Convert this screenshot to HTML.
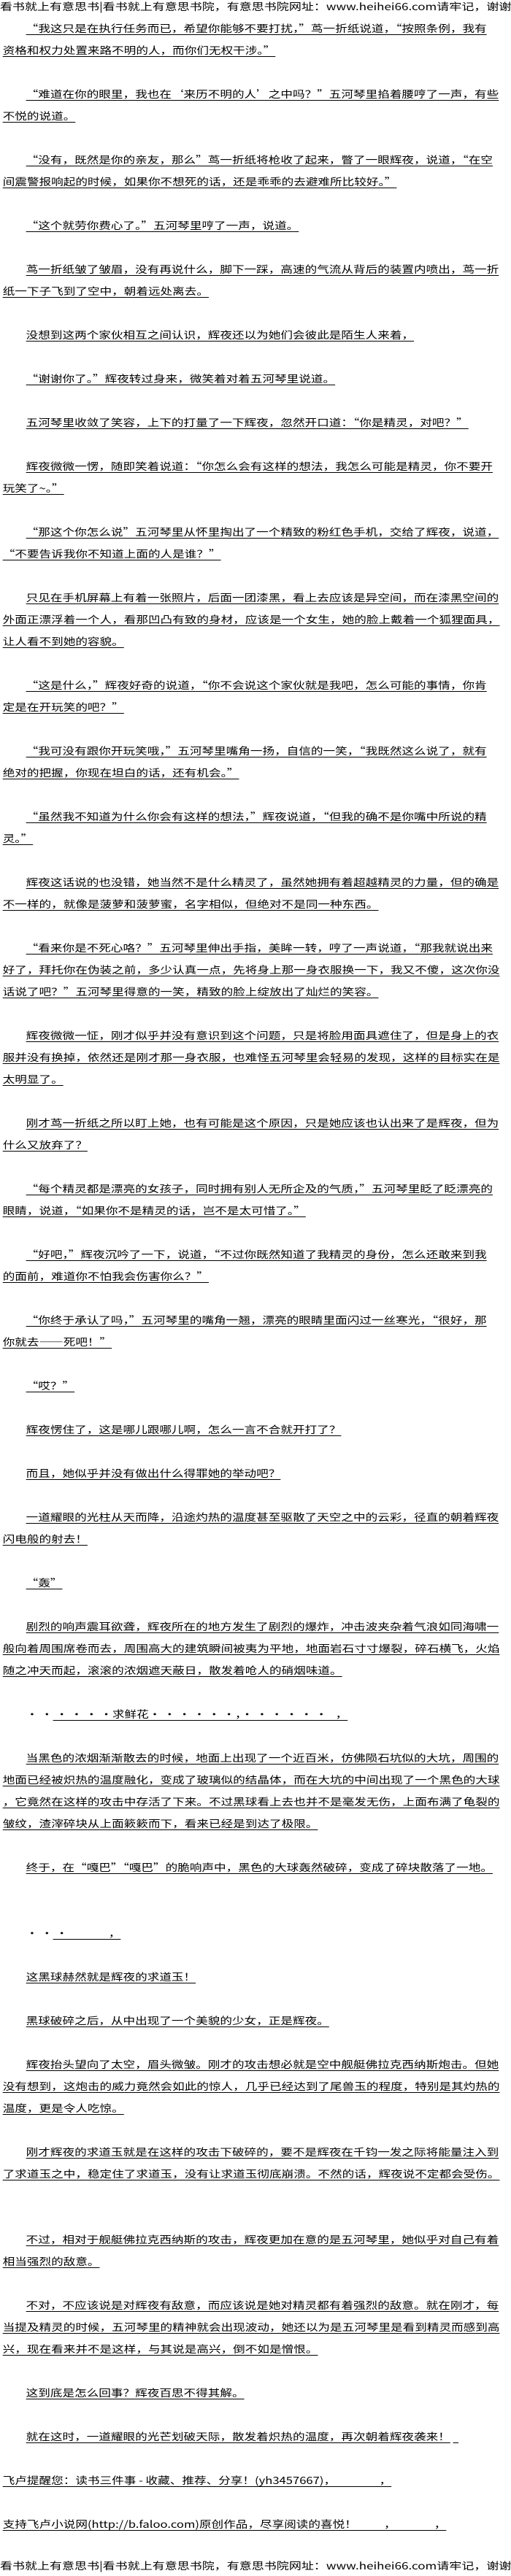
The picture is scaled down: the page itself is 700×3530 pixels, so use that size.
<!DOCTYPE html>
<html lang="zh-CN">
<head>
<meta charset="utf-8">
<style>
html,body{margin:0;padding:0;background:#fff;}
body{width:700px;height:3530px;position:relative;overflow:hidden;
font-family:"WenQuanYi Zen Hei","Noto Sans CJK SC",sans-serif;color:#000;}
.l{position:absolute;left:0;height:30px;line-height:30px;font-size:13.5px;white-space:nowrap;
transform:scaleX(1.23);transform-origin:0 0;padding-left:3px;}
.l span{text-decoration:underline;text-underline-offset:3px;text-decoration-thickness:1px;}
.i{padding-left:29px;}
.h{padding-left:0;transform:scaleX(1.26);}
</style>
</head>
<body>
<div class="l h" style="top:-7px">看书就上有意思书|看书就上有意思书院，有意思书院网址：www.heihei66.com请牢记，谢谢</div>

<div class="l i" style="top:23px"><span>“我这只是在执行任务而已，希望你能够不要打扰，”茑一折纸说道，“按照条例，我有</span></div>
<div class="l" style="top:53px"><span>资格和权力处置来路不明的人，而你们无权干涉。”</span></div>

<div class="l i" style="top:113px"><span>“难道在你的眼里，我也在‘来历不明的人’之中吗？”五河琴里掐着腰哼了一声，有些</span></div>
<div class="l" style="top:143px"><span>不悦的说道。</span></div>

<div class="l i" style="top:203px"><span>“没有，既然是你的亲友，那么”茑一折纸将枪收了起来，瞥了一眼辉夜，说道，“在空</span></div>
<div class="l" style="top:233px"><span>间震警报响起的时候，如果你不想死的话，还是乖乖的去避难所比较好。”</span></div>

<div class="l i" style="top:293px"><span>“这个就劳你费心了。”五河琴里哼了一声，说道。</span></div>

<div class="l i" style="top:353px"><span>茑一折纸皱了皱眉，没有再说什么，脚下一踩，高速的气流从背后的装置内喷出，茑一折</span></div>
<div class="l" style="top:383px"><span>纸一下子飞到了空中，朝着远处离去。</span></div>

<div class="l i" style="top:443px"><span>没想到这两个家伙相互之间认识，辉夜还以为她们会彼此是陌生人来着，</span></div>

<div class="l i" style="top:503px"><span>“谢谢你了。”辉夜转过身来，微笑着对着五河琴里说道。</span></div>

<div class="l i" style="top:563px"><span>五河琴里收敛了笑容，上下的打量了一下辉夜，忽然开口道：“你是精灵，对吧？”</span></div>

<div class="l i" style="top:623px"><span>辉夜微微一愣，随即笑着说道：“你怎么会有这样的想法，我怎么可能是精灵，你不要开</span></div>
<div class="l" style="top:653px"><span>玩笑了~。”</span></div>

<div class="l i" style="top:713px"><span>“那这个你怎么说”五河琴里从怀里掏出了一个精致的粉红色手机，交给了辉夜，说道，</span></div>
<div class="l" style="top:743px"><span>“不要告诉我你不知道上面的人是谁？”</span></div>

<div class="l i" style="top:803px"><span>只见在手机屏幕上有着一张照片，后面一团漆黑，看上去应该是异空间，而在漆黑空间的</span></div>
<div class="l" style="top:833px"><span>外面正漂浮着一个人，看那凹凸有致的身材，应该是一个女生，她的脸上戴着一个狐狸面具，</span></div>
<div class="l" style="top:863px"><span>让人看不到她的容貌。</span></div>

<div class="l i" style="top:923px"><span>“这是什么，”辉夜好奇的说道，“你不会说这个家伙就是我吧，怎么可能的事情，你肯</span></div>
<div class="l" style="top:953px"><span>定是在开玩笑的吧？”</span></div>

<div class="l i" style="top:1013px"><span>“我可没有跟你开玩笑哦，”五河琴里嘴角一扬，自信的一笑，“我既然这么说了，就有</span></div>
<div class="l" style="top:1043px"><span>绝对的把握，你现在坦白的话，还有机会。”</span></div>

<div class="l i" style="top:1103px"><span>“虽然我不知道为什么你会有这样的想法，”辉夜说道，“但我的确不是你嘴中所说的精</span></div>
<div class="l" style="top:1133px"><span>灵。”</span></div>

<div class="l i" style="top:1193px"><span>辉夜这话说的也没错，她当然不是什么精灵了，虽然她拥有着超越精灵的力量，但的确是</span></div>
<div class="l" style="top:1223px"><span>不一样的，就像是菠萝和菠萝蜜，名字相似，但绝对不是同一种东西。</span></div>

<div class="l i" style="top:1283px"><span>“看来你是不死心咯？”五河琴里伸出手指，美眸一转，哼了一声说道，“那我就说出来</span></div>
<div class="l" style="top:1313px"><span>好了，拜托你在伪装之前，多少认真一点，先将身上那一身衣服换一下，我又不傻，这次你没</span></div>
<div class="l" style="top:1343px"><span>话说了吧？”五河琴里得意的一笑，精致的脸上绽放出了灿烂的笑容。</span></div>

<div class="l i" style="top:1403px"><span>辉夜微微一怔，刚才似乎并没有意识到这个问题，只是将脸用面具遮住了，但是身上的衣</span></div>
<div class="l" style="top:1433px"><span>服并没有换掉，依然还是刚才那一身衣服，也难怪五河琴里会轻易的发现，这样的目标实在是</span></div>
<div class="l" style="top:1463px"><span>太明显了。</span></div>

<div class="l i" style="top:1523px"><span>刚才茑一折纸之所以盯上她，也有可能是这个原因，只是她应该也认出来了是辉夜，但为</span></div>
<div class="l" style="top:1553px"><span>什么又放弃了？</span></div>

<div class="l i" style="top:1613px"><span>“每个精灵都是漂亮的女孩子，同时拥有别人无所企及的气质，”五河琴里眨了眨漂亮的</span></div>
<div class="l" style="top:1643px"><span>眼睛，说道，“如果你不是精灵的话，岂不是太可惜了。”</span></div>

<div class="l i" style="top:1703px"><span>“好吧，”辉夜沉吟了一下，说道，“不过你既然知道了我精灵的身份，怎么还敢来到我</span></div>
<div class="l" style="top:1733px"><span>的面前，难道你不怕我会伤害你么？”</span></div>

<div class="l i" style="top:1793px"><span>“你终于承认了吗，”五河琴里的嘴角一翘，漂亮的眼睛里面闪过一丝寒光，“很好，那</span></div>
<div class="l" style="top:1823px"><span>你就去——死吧！”</span></div>

<div class="l i" style="top:1883px"><span>“哎？”</span></div>

<div class="l i" style="top:1943px"><span>辉夜愣住了，这是哪儿跟哪儿啊，怎么一言不合就开打了？</span></div>

<div class="l i" style="top:2003px"><span>而且，她似乎并没有做出什么得罪她的举动吧？</span></div>

<div class="l i" style="top:2063px"><span>一道耀眼的光柱从天而降，沿途灼热的温度甚至驱散了天空之中的云彩，径直的朝着辉夜</span></div>
<div class="l" style="top:2093px"><span>闪电般的射去！</span></div>

<div class="l i" style="top:2153px"><span>“轰”</span></div>

<div class="l i" style="top:2213px"><span>剧烈的响声震耳欲聋，辉夜所在的地方发生了剧烈的爆炸，冲击波夹杂着气浪如同海啸一</span></div>
<div class="l" style="top:2243px"><span>般向着周围席卷而去，周围高大的建筑瞬间被夷为平地，地面岩石寸寸爆裂，碎石横飞，火焰</span></div>
<div class="l" style="top:2273px"><span>随之冲天而起，滚滚的浓烟遮天蔽日，散发着呛人的硝烟味道。</span></div>

<div class="l i" style="top:2333px">· ·<span>&nbsp;·&nbsp;·&nbsp;·&nbsp;·求鲜花·&nbsp;·&nbsp;·&nbsp;·&nbsp;·&nbsp;·，·&nbsp;·&nbsp;·&nbsp;·&nbsp;·&nbsp;·&nbsp;&nbsp;&nbsp;，</span></div>

<div class="l i" style="top:2393px"><span>当黑色的浓烟渐渐散去的时候，地面上出现了一个近百米，仿佛陨石坑似的大坑，周围的</span></div>
<div class="l" style="top:2423px"><span>地面已经被炽热的温度融化，变成了玻璃似的结晶体，而在大坑的中间出现了一个黑色的大球</span></div>
<div class="l" style="top:2453px"><span>，它竟然在这样的攻击中存活了下来。不过黑球看上去也并不是毫发无伤，上面布满了龟裂的</span></div>
<div class="l" style="top:2483px"><span>皱纹，渣滓碎块从上面簌簌而下，看来已经是到达了极限。</span></div>

<div class="l i" style="top:2543px"><span>终于，在“嘎巴”“嘎巴”的脆响声中，黑色的大球轰然破碎，变成了碎块散落了一地。</span></div>

<div class="l i" style="top:2633px">· ·<span>&nbsp;·&nbsp;&nbsp;&nbsp;&nbsp;&nbsp;&nbsp;&nbsp;&nbsp;&nbsp;&nbsp;&nbsp;&nbsp;&nbsp;&nbsp;&nbsp;，</span></div>

<div class="l i" style="top:2693px"><span>这黑球赫然就是辉夜的求道玉！</span></div>

<div class="l i" style="top:2753px"><span>黑球破碎之后，从中出现了一个美貌的少女，正是辉夜。</span></div>

<div class="l i" style="top:2813px"><span>辉夜抬头望向了太空，眉头微皱。刚才的攻击想必就是空中舰艇佛拉克西纳斯炮击。但她</span></div>
<div class="l" style="top:2843px"><span>没有想到，这炮击的威力竟然会如此的惊人，几乎已经达到了尾兽玉的程度，特别是其灼热的</span></div>
<div class="l" style="top:2873px"><span>温度，更是令人吃惊。</span></div>

<div class="l i" style="top:2933px"><span>刚才辉夜的求道玉就是在这样的攻击下破碎的，要不是辉夜在千钧一发之际将能量注入到</span></div>
<div class="l" style="top:2963px"><span>了求道玉之中，稳定住了求道玉，没有让求道玉彻底崩溃。不然的话，辉夜说不定都会受伤。</span></div>

<div class="l i" style="top:3053px"><span>不过，相对于舰艇佛拉克西纳斯的攻击，辉夜更加在意的是五河琴里，她似乎对自己有着</span></div>
<div class="l" style="top:3083px"><span>相当强烈的敌意。</span></div>

<div class="l i" style="top:3143px"><span>不对，不应该说是对辉夜有敌意，而应该说是她对精灵都有着强烈的敌意。就在刚才，每</span></div>
<div class="l" style="top:3173px"><span>当提及精灵的时候，五河琴里的精神就会出现波动，她还以为是五河琴里是看到精灵而感到高</span></div>
<div class="l" style="top:3203px"><span>兴，现在看来并不是这样，与其说是高兴，倒不如是憎恨。</span></div>

<div class="l i" style="top:3263px"><span>这到底是怎么回事？辉夜百思不得其解。</span></div>

<div class="l i" style="top:3323px"><span>就在这时，一道耀眼的光芒划破天际，散发着炽热的温度，再次朝着辉夜袭来！</span>&nbsp;<span>&nbsp;&nbsp;</span></div>

<div class="l" style="top:3383px"><span>飞卢提醒您：读书三件事 - 收藏、推荐、分享！(yh3457667)，&nbsp;&nbsp;&nbsp;&nbsp;&nbsp;&nbsp;&nbsp;&nbsp;&nbsp;&nbsp;&nbsp;&nbsp;&nbsp;&nbsp;&nbsp;&nbsp;，</span></div>

<div class="l" style="top:3443px"><span>支持飞卢小说网(http://b.faloo.com)原创作品，尽享阅读的喜悦！&nbsp;&nbsp;&nbsp;&nbsp;&nbsp;&nbsp;&nbsp;&nbsp;&nbsp;&nbsp;，&nbsp;&nbsp;&nbsp;&nbsp;&nbsp;&nbsp;&nbsp;&nbsp;&nbsp;&nbsp;&nbsp;&nbsp;&nbsp;&nbsp;，</span></div>

<div class="l h" style="top:3500px">看书就上有意思书|看书就上有意思书院，有意思书院网址：www.heihei66.com请牢记，谢谢</div>
</body>
</html>
